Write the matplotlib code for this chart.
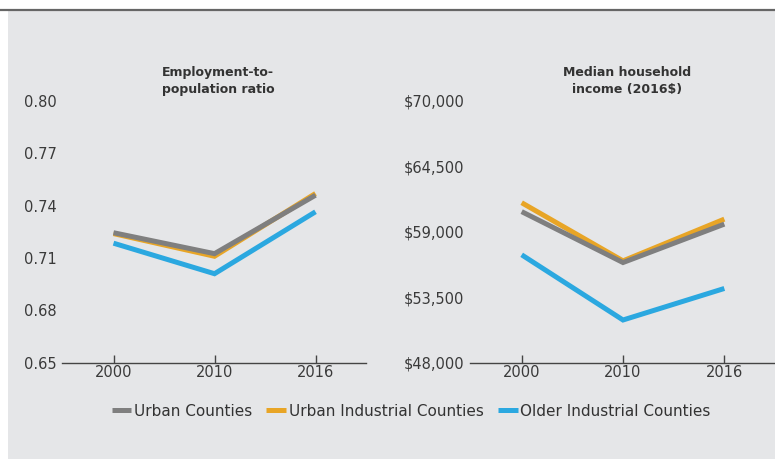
import numpy as np
import matplotlib
matplotlib.use("Agg")
import matplotlib.pyplot as plt
from matplotlib.patches import Rectangle
from matplotlib.lines import Line2D
from matplotlib.ticker import FuncFormatter

years = ["2000", "2010", "2016"]
series_names = ["Urban Counties", "Urban Industrial Counties", "Older Industrial Counties"]

# employment-to-population ratio
emp_urban = [0.7245, 0.7125, 0.7460]
emp_urban_ind = [0.7240, 0.7110, 0.7470]
emp_older_ind = [0.7185, 0.7010, 0.7365]

# median household income (2016$)
inc_urban = [60700, 56420, 59650]
inc_urban_ind = [61450, 56560, 60070]
inc_older_ind = [57070, 51590, 54240]

emp_ticks = [0.65, 0.68, 0.71, 0.74, 0.77, 0.80]
inc_ticks = [48000, 53500, 59000, 64500, 70000]

COLORS = {
    "Urban Counties": "#7f7f7f",
    "Urban Industrial Counties": "#e8a526",
    "Older Industrial Counties": "#2ba8e0",
}
PANEL = "#e5e6e8"
TEXT = "#333333"

W, H = 775, 459
fig = plt.figure(figsize=(W / 100, H / 100), dpi=100, facecolor="white")

# grey backdrop and top rule (behind the axes)
fig.patches.append(Rectangle((8 / W, 0), 1 - 8 / W, 1 - 11 / H, transform=fig.transFigure,
                             facecolor=PANEL, edgecolor="none", zorder=-2))
fig.lines.append(Line2D([0, 1], [1 - 10 / H, 1 - 10 / H], transform=fig.transFigure,
                        color="#666666", linewidth=1.6, zorder=-1))


def style_axis(ax, ylim, ticks, fmt):
    ax.set_facecolor("none")
    for side in ("left", "right", "top"):
        ax.spines[side].set_visible(False)
    ax.spines["bottom"].set_color("#444444")
    ax.spines["bottom"].set_linewidth(1.0)
    ax.set_xlim(-0.51, 2.5)
    ax.set_ylim(*ylim)
    ax.set_xticks(range(len(years)))
    ax.set_xticklabels(years)
    ax.set_yticks(ticks)
    ax.yaxis.set_major_formatter(FuncFormatter(fmt))
    ax.tick_params(axis="x", direction="in", length=6, width=1, color="#444444",
                   pad=2, labelsize=10.5, labelcolor="#3a3a3a")
    ax.tick_params(axis="y", length=0, pad=4, labelsize=10.5, labelcolor="#3a3a3a")


def draw_series(ax, data):
    # orange first so the grey sits on top of it, as in the source
    for name in ["Urban Industrial Counties", "Urban Counties", "Older Industrial Counties"]:
        ax.plot(range(len(years)), data[name], color=COLORS[name], linewidth=3.6,
                solid_joinstyle="miter", solid_capstyle="butt", clip_on=False)


ax1 = fig.add_axes([62 / W, 1 - 362.7 / H, 304 / W, 261.7 / H])
draw_series(ax1, {
    "Urban Counties": emp_urban,
    "Urban Industrial Counties": emp_urban_ind,
    "Older Industrial Counties": emp_older_ind,
})
style_axis(ax1, (0.65, 0.80), emp_ticks, lambda v, p: f"{v:.2f}")

ax2 = fig.add_axes([470 / W, 1 - 362.7 / H, 305 / W, 261.7 / H])
draw_series(ax2, {
    "Urban Counties": inc_urban,
    "Urban Industrial Counties": inc_urban_ind,
    "Older Industrial Counties": inc_older_ind,
})
style_axis(ax2, (48000, 70000), inc_ticks, lambda v, p: f"\\${v:,.0f}")

fig.text(218 / W, 1 - 81 / H, "Employment-to-\npopulation ratio", ha="center", va="center",
         fontsize=9, fontweight="bold", color=TEXT, linespacing=1.35)
fig.text(627 / W, 1 - 81 / H, "Median household\nincome (2016\\$)", ha="center", va="center",
         fontsize=9, fontweight="bold", color=TEXT, linespacing=1.35)

handles = [Line2D([], [], color=COLORS[n], linewidth=3.6, solid_capstyle="butt")
           for n in series_names]
fig.legend(handles, series_names, loc="center", bbox_to_anchor=(411 / W, 1 - 411 / H),
           ncol=3, frameon=False, fontsize=11, handlelength=1.3, handletextpad=0.15,
           columnspacing=0.95, labelcolor=TEXT)

fig.savefig("out.png", dpi=100, facecolor="white")
